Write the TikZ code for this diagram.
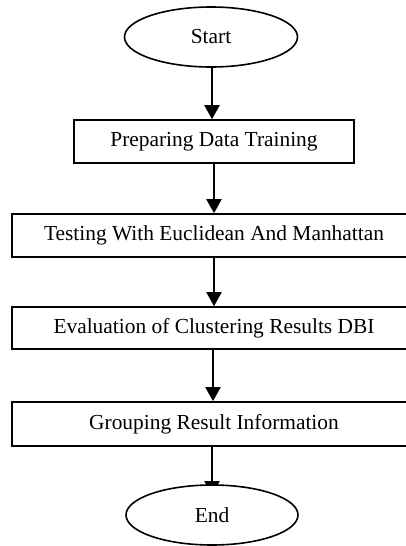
\documentclass[tikz,border=0pt]{standalone}
\usepackage{fontspec}
\setmainfont{Liberation Serif}
\usetikzlibrary{arrows.meta,shapes.geometric,backgrounds}
\begin{document}
\begin{tikzpicture}[x=1pt,y=-1pt,
  every node/.style={font=\fontsize{21.4}{25}\selectfont, inner sep=0pt},
  terminal/.style={ellipse, draw, line width=1.6pt, fill=white,
    minimum width=173pt, minimum height=60pt},
  stepbox/.style={rectangle, draw, line width=1.6pt, fill=white,
    minimum height=43pt},
  flow/.style={-{Triangle[length=14pt,width=15pt]}, line width=2pt}]
  \useasboundingbox (0,0) rectangle (406,546);
  \clip (0,0) rectangle (406,546);

  \node[terminal] (start) at (211,37) {Start};
  \node[stepbox, minimum width=280pt] (prep) at (214,141.5) {Preparing Data Training};
  \node[stepbox, minimum width=404pt] (test) at (214,235.5) {Testing With Euclidean And Manhattan};
  \node[stepbox, minimum width=404pt, minimum height=42pt] (eval) at (214,328) {Evaluation of Clustering Results DBI};
  \node[stepbox, minimum width=404pt, minimum height=44pt] (group) at (214,424) {Grouping Result Information};
  \node[terminal, minimum width=172pt] (end) at (212,515) {End};

  \begin{pgfonlayer}{background}
    \draw[flow] ([xshift=1pt]start.south) -- ([xshift=1pt]start.south |- prep.north);
    \draw[flow] (prep.south) -- (test.north);
    \draw[flow] (test.south) -- (eval.north);
    \draw[flow] ([xshift=-1pt]eval.south) -- ([xshift=-1pt]group.north);
    \draw[flow] ([xshift=-2pt]group.south) -- ([yshift=-11pt]end.north);
  \end{pgfonlayer}
\end{tikzpicture}
\end{document}
